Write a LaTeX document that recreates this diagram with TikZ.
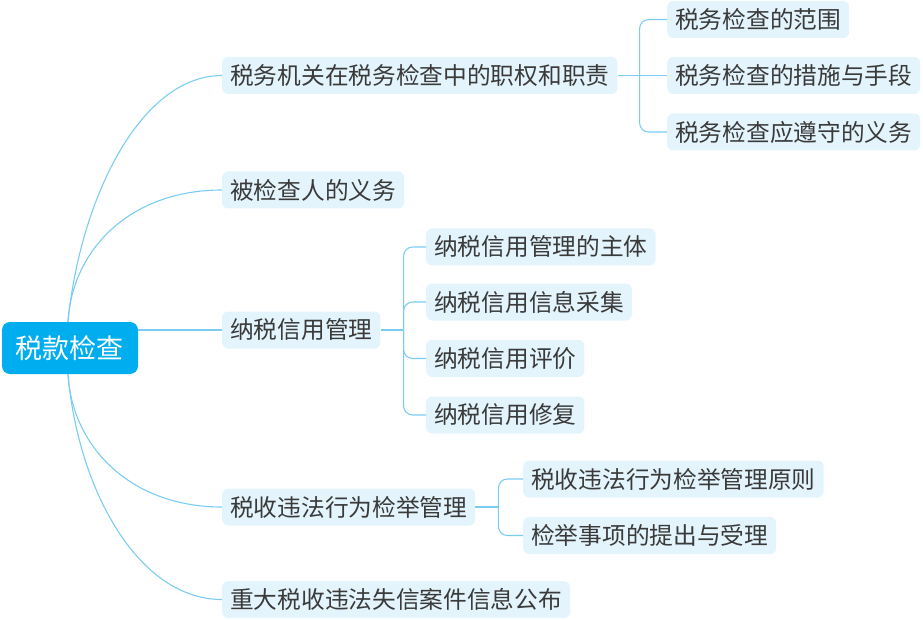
\documentclass[tikz,border=0pt]{standalone}
\usepackage{fontspec}
\setmainfont{Noto Sans CJK SC}
\usetikzlibrary{calc}
\definecolor{linec}{HTML}{7ACCF2}
\definecolor{boxc}{HTML}{E3F4FC}
\definecolor{rootc}{HTML}{00ADEF}
\definecolor{txtc}{HTML}{3A3A3A}
\tikzset{
  topic/.style={fill=boxc, rounded corners=6pt, text=txtc, inner xsep=8pt, inner ysep=0pt,
    minimum height=37pt, anchor=west, font=\fontsize{23.7pt}{28pt}\selectfont},
  rootbox/.style={fill=rootc, rounded corners=8pt, text=white, inner xsep=14pt, inner ysep=0pt,
    minimum height=52pt, minimum width=136pt, font=\fontsize{27pt}{32pt}\selectfont},
  conn/.style={draw=linec, line width=1.1pt},
  brack/.style={conn, rounded corners=9pt}
}
\begin{document}
\begin{tikzpicture}[x=1pt,y=-1pt]
\useasboundingbox (0,0) rectangle (923,620);
\node[rootbox] (root) at (70,348) {税款检查};

\node[topic] (n1) at (222,75.5) {税务机关在税务检查中的职权和职责};
\node[topic] (n2) at (222,190) {被检查人的义务};
\node[topic] (n3) at (222,330) {纳税信用管理};
\node[topic] (n4) at (222,507) {税收违法行为检举管理};
\node[topic] (n5) at (222,599.5) {重大税收违法失信案件信息公布};

\node[topic] (n11) at (667,19.5) {税务检查的范围};
\node[topic] (n12) at (667,75.5) {税务检查的措施与手段};
\node[topic] (n13) at (667,132) {税务检查应遵守的义务};

\node[topic] (n31) at (426,247) {纳税信用管理的主体};
\node[topic] (n32) at (426,302) {纳税信用信息采集};
\node[topic] (n33) at (426,358.5) {纳税信用评价};
\node[topic] (n34) at (426,415) {纳税信用修复};

\node[topic] (n41) at (523,479) {税收违法行为检举管理原则};
\node[topic] (n42) at (523,535.5) {检举事项的提出与受理};

\coordinate (rt) at ($(root.north)+(-2,0)$);
\coordinate (rb) at ($(root.south)+(-2,0)$);

\draw[conn] (rt) .. controls +(12,-122) and +(-82,0) .. (n1.west);
\draw[conn] (rt) .. controls +(4,-72) and +(-92,0) .. (n2.west);
\draw[conn] (n3.west) -- (n3.west -| root.east);
\draw[conn] (rb) .. controls +(4,72) and +(-92,0) .. (n4.west);
\draw[conn] (rb) .. controls +(10,115) and +(-84,0) .. (n5.west);

\coordinate (b1) at ($(n1.east)+(22,0)$);
\draw[conn] (n1.east) -- (n12.west);
\draw[brack] (b1) |- (n11.west);
\draw[brack] (b1) |- (n13.west);

\coordinate (b3) at ($(n3.east)+(23,0)$);
\draw[conn] (n3.east) -- (b3);
\draw[brack] (b3) |- (n31.west);
\draw[brack] (b3) |- (n32.west);
\draw[brack] (b3) |- (n33.west);
\draw[brack] (b3) |- (n34.west);

\coordinate (b4) at ($(n4.east)+(23,0)$);
\draw[conn] (n4.east) -- (b4);
\draw[brack] (b4) |- (n41.west);
\draw[brack] (b4) |- (n42.west);
\end{tikzpicture}
\end{document}
